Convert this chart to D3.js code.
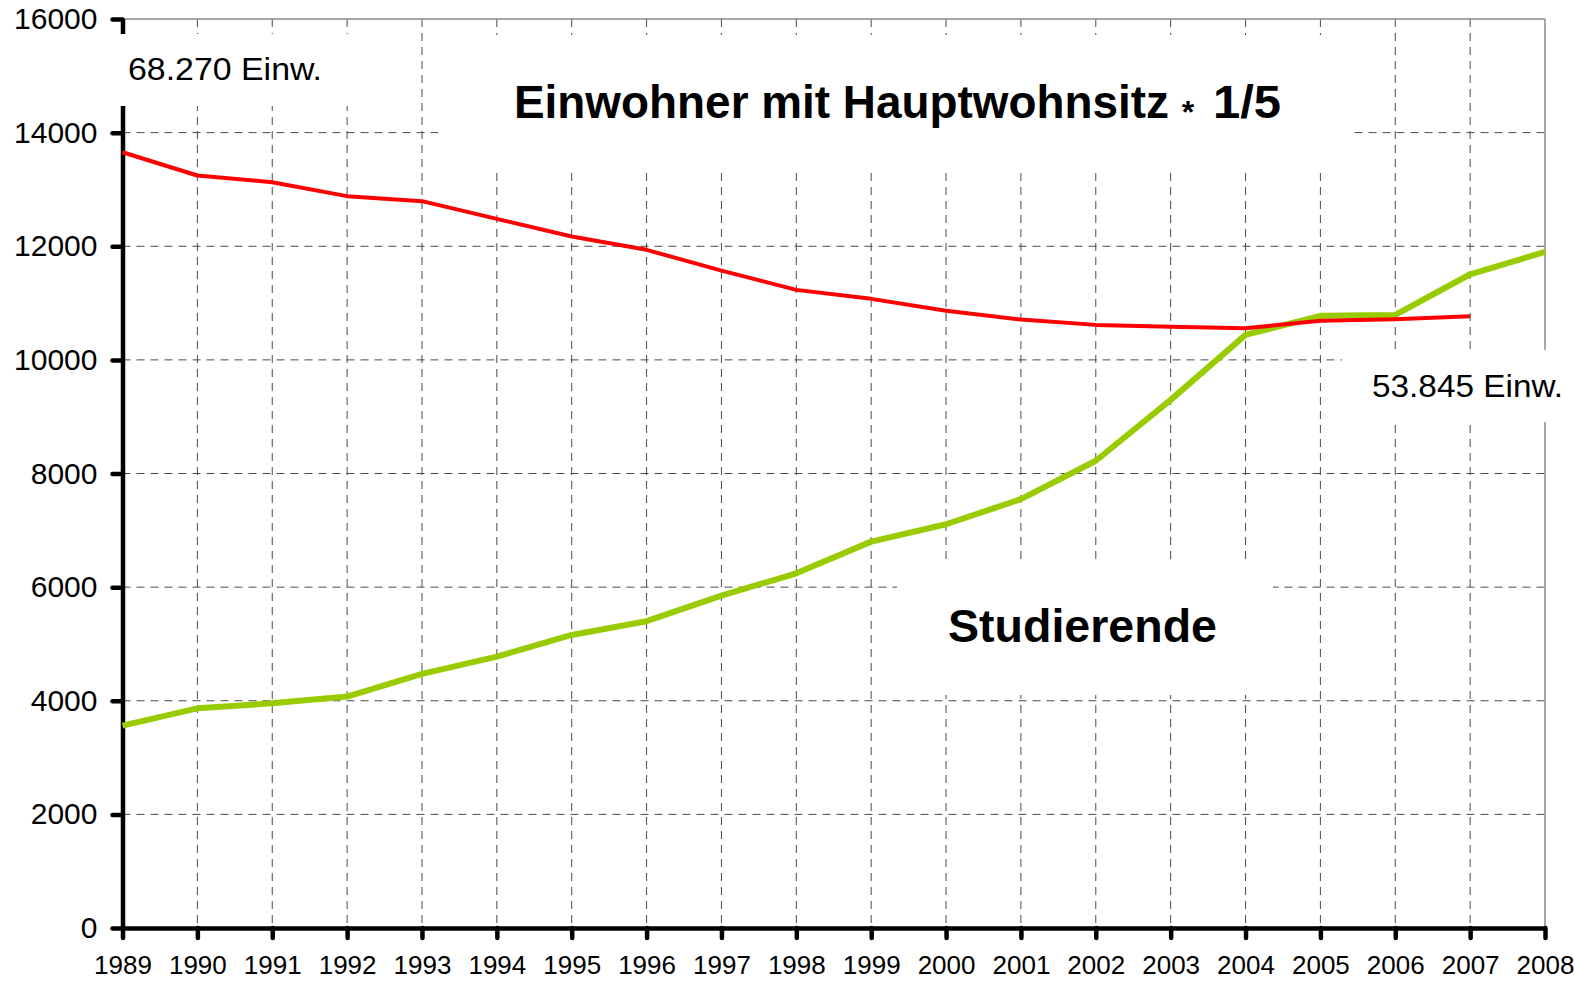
<!DOCTYPE html>
<html>
<head>
<meta charset="utf-8">
<script src="https://cdn.jsdelivr.net/npm/d3@7"></script>
<style>
  body { margin: 0; background: #fff; }
  text { font-family: "Liberation Sans", Arial, Helvetica, sans-serif; }
</style>
</head>
<body>
<div id="chart"></div>
<script>
// Jahre (x-Achse)
const jahre = [1989, 1990, 1991, 1992, 1993, 1994, 1995, 1996, 1997, 1998,
  1999, 2000, 2001, 2002, 2003, 2004, 2005, 2006, 2007, 2008];

// Einwohner mit Hauptwohnsitz * 1/5 (bis 2007)
const einwohner = [13654, 13245, 13128, 12882, 12794, 12482, 12171, 11937, 11572, 11232,
  11074, 10863, 10710, 10616, 10581, 10557, 10687, 10716, 10769];

// Studierende
const studierende = [3562, 3867, 3955, 4073, 4472, 4777, 5158, 5400, 5850, 6244,
  6801, 7107, 7548, 8225, 9296, 10440, 10775, 10792, 11507, 11901];

const yTicks = [0, 2000, 4000, 6000, 8000, 10000, 12000, 14000, 16000];

// dimensions
const W = 1575, H = 981;

const svg = d3.select("#chart")
  .append("svg")
  .attr("width", W)
  .attr("height", H);

const x = d3.scaleLinear().domain([1989, 2008]).range([122.5, 1545]);
const y = d3.scaleLinear().domain([0, 16000]).range([928, 19]);

// -- Gitternetz
const grid = svg.append("g");
grid.selectAll(".hgrid")
  .data(yTicks.filter(d => d > 0 && d < 16000))
  .enter().append("line")
  .attr("x1", x(1989)).attr("x2", x(2008))
  .attr("y1", d => y(d)).attr("y2", d => y(d))
  .attr("stroke", "#4a4a4a").attr("stroke-width", 1)
  .attr("stroke-dasharray", "8,6");

grid.selectAll(".vgrid")
  .data(jahre.filter(d => d > 1989 && d < 2008))
  .enter().append("line")
  .attr("x1", d => x(d)).attr("x2", d => x(d))
  .attr("y1", y(16000)).attr("y2", y(0))
  .attr("stroke", "#4a4a4a").attr("stroke-width", 1)
  .attr("stroke-dasharray", "8,6");

// Rahmen oben und rechts
svg.append("line")
  .attr("x1", x(1989)).attr("x2", x(2008))
  .attr("y1", y(16000)).attr("y2", y(16000))
  .attr("stroke", "#888").attr("stroke-width", 1.5);
svg.append("line")
  .attr("x1", x(2008)).attr("x2", x(2008))
  .attr("y1", y(16000)).attr("y2", y(0))
  .attr("stroke", "#888").attr("stroke-width", 1.5);

// -- Achsen
const yAxis = svg.append("g")
  .attr("transform", "translate(" + x(1989) + ",0)")
  .call(d3.axisLeft(y).tickValues(yTicks).tickSize(10).tickPadding(15).tickSizeOuter(0)
    .tickFormat(d3.format("d")));

const xAxis = svg.append("g")
  .attr("transform", "translate(0," + y(0) + ")")
  .call(d3.axisBottom(x).tickValues(jahre).tickSize(10).tickPadding(18).tickSizeOuter(0)
    .tickFormat(d3.format("d")));

[yAxis, xAxis].forEach(a => {
  a.select(".domain").attr("stroke", "#000").attr("stroke-width", 4.5);
  a.selectAll(".tick line").attr("stroke", "#000").attr("stroke-width", 4.5)
    .attr("stroke-linecap", "round");
  a.selectAll(".tick text").attr("fill", "#000")
    .style("font-family", "'Liberation Sans', Arial, sans-serif");
});
yAxis.selectAll(".tick text").style("font-size", "30px");
xAxis.selectAll(".tick text").style("font-size", "26px");

// -- weiße Beschriftungsfelder (verdecken das Gitter)
const boxes = [
  { x: 100, y: 34, w: 300, h: 72 },
  { x: 438, y: 35, w: 912, h: 137 },
  { x: 1342, y: 350, w: 233, h: 72 },
  { x: 897, y: 562, w: 376, h: 133 }
];
svg.selectAll(".box")
  .data(boxes)
  .enter().append("rect")
  .attr("x", d => d.x).attr("y", d => d.y)
  .attr("width", d => d.w).attr("height", d => d.h)
  .attr("fill", "#fff");

// -- Linien
const line = d3.line()
  .x((d, i) => x(jahre[i]))
  .y(d => y(d));

svg.append("path")
  .datum(studierende)
  .attr("fill", "none")
  .attr("stroke", "#99cc00")
  .attr("stroke-width", 6)
  .attr("stroke-linejoin", "round")
  .attr("d", line);

svg.append("path")
  .datum(einwohner)
  .attr("fill", "none")
  .attr("stroke", "#ff0000")
  .attr("stroke-width", 4)
  .attr("stroke-linejoin", "round")
  .attr("d", line);

// -- Texte
svg.append("text")
  .attr("x", 128).attr("y", 80)
  .attr("textLength", 194).attr("lengthAdjust", "spacingAndGlyphs")
  .style("font-size", "32px")
  .text("68.270 Einw.");

svg.append("text")
  .attr("x", 1372).attr("y", 397)
  .attr("textLength", 191).attr("lengthAdjust", "spacingAndGlyphs")
  .style("font-size", "32px")
  .text("53.845 Einw.");

svg.append("text")
  .attr("x", 514).attr("y", 118)
  .attr("textLength", 655).attr("lengthAdjust", "spacingAndGlyphs")
  .style("font-size", "46px").style("font-weight", "bold")
  .text("Einwohner mit Hauptwohnsitz");

svg.append("text")
  .attr("x", 1188).attr("y", 123)
  .attr("text-anchor", "middle")
  .style("font-size", "32px").style("font-weight", "bold")
  .text("*");

svg.append("text")
  .attr("x", 1213).attr("y", 118)
  .attr("textLength", 68).attr("lengthAdjust", "spacingAndGlyphs")
  .style("font-size", "46px").style("font-weight", "bold")
  .text("1/5");

svg.append("text")
  .attr("x", 948).attr("y", 642)
  .attr("textLength", 269).attr("lengthAdjust", "spacingAndGlyphs")
  .style("font-size", "46px").style("font-weight", "bold")
  .text("Studierende");
</script>
</body>
</html>
